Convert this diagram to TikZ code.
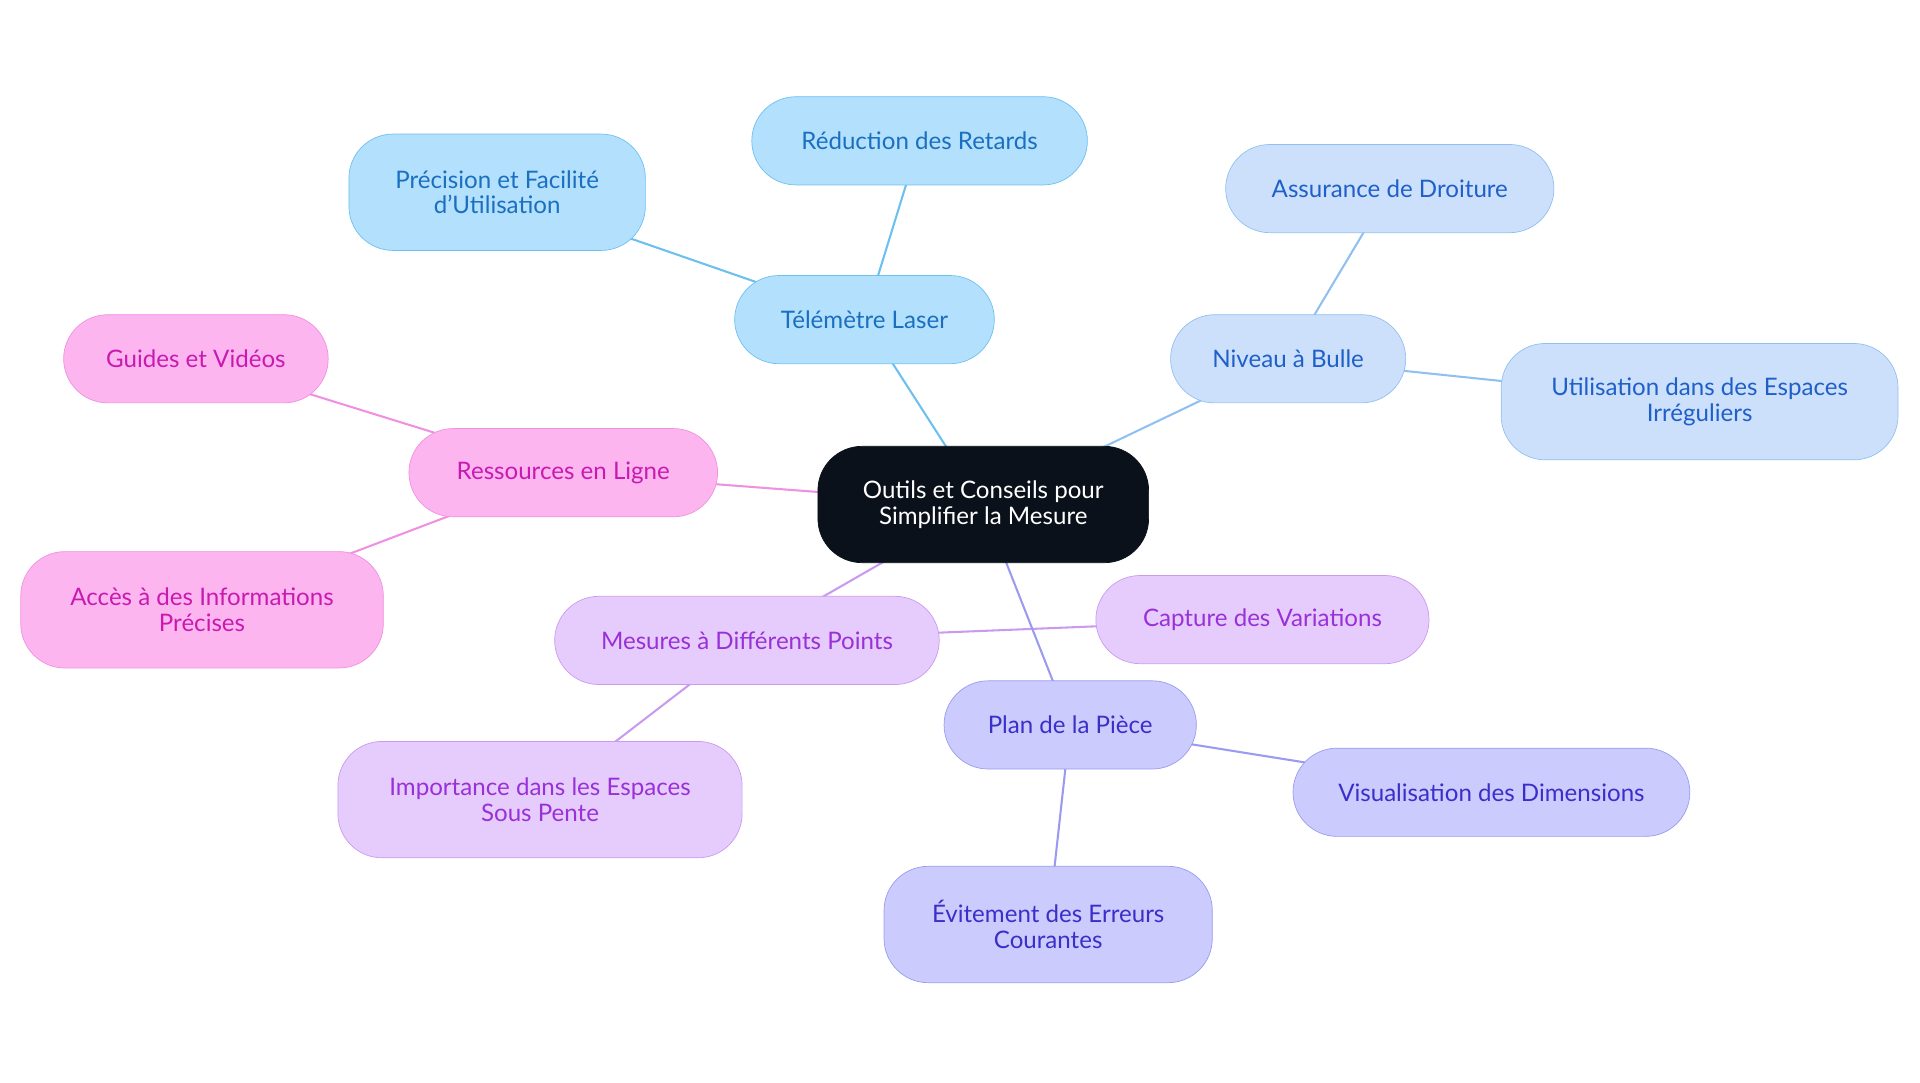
\documentclass[tikz,border=0pt]{standalone}
\usepackage{fontspec}
\setmainfont{Lato}
\usetikzlibrary{positioning, backgrounds}
\definecolor{cdark}{HTML}{0B111A}
\definecolor{bfill}{HTML}{B3E0FD}\definecolor{bline}{HTML}{6CC0F0}\definecolor{btext}{HTML}{1A6FC0}
\definecolor{lfill}{HTML}{CCE0FB}\definecolor{lline}{HTML}{90C0F0}\definecolor{ltext}{HTML}{1F5FC8}
\definecolor{pfill}{HTML}{CBCBFD}\definecolor{pline}{HTML}{9A9AF0}\definecolor{ptext}{HTML}{3A2FC8}
\definecolor{vfill}{HTML}{E5CCFC}\definecolor{vline}{HTML}{C99AF0}\definecolor{vtext}{HTML}{9A30D8}
\definecolor{kfill}{HTML}{FDB5F0}\definecolor{kline}{HTML}{F090E0}\definecolor{ktext}{HTML}{C81AB0}
\tikzset{
  box/.style={rounded corners=0.9cm, align=center, inner sep=0pt, font=\fontsize{14}{15}\selectfont},
  root/.style={box, fill=cdark, draw=cdark, text=white},
  tel/.style={box, fill=bfill, draw=bline, text=btext},
  niv/.style={box, fill=lfill, draw=lline, text=ltext},
  pla/.style={box, fill=pfill, draw=pline, text=ptext},
  mes/.style={box, fill=vfill, draw=vline, text=vtext},
  res/.style={box, fill=kfill, draw=kline, text=ktext},
  link/.style={line width=1.2pt, draw=#1}
}
\begin{document}
\begin{tikzpicture}[x=0.025cm, y=-0.025cm]
  \useasboundingbox (0,0) rectangle (1568,884);
  % centre
  \node[root, minimum width=6.75cm, minimum height=2.375cm] (center) at (803,412) {Outils et Conseils pour\\Simplifier la Mesure};
  % branches
  \node[tel, minimum width=5.3cm, minimum height=1.8cm] (tel) at (706,261) {Télémètre Laser};
  \node[tel, minimum width=6.85cm, minimum height=1.8cm] (tel1) at (751,115) {Réduction des Retards};
  \node[tel, minimum width=6.05cm, minimum height=2.375cm] (tel2) at (406,157) {Précision et Facilité\\d'Utilisation};
  \node[niv, minimum width=4.8cm, minimum height=1.8cm] (niv) at (1052,293) {Niveau à Bulle};
  \node[niv, minimum width=6.7cm, minimum height=1.8cm] (niv1) at (1135,154) {Assurance de Droiture};
  \node[niv, minimum width=8.1cm, minimum height=2.375cm] (niv2) at (1388,328) {Utilisation dans des Espaces\\Irréguliers};
  \node[res, minimum width=6.3cm, minimum height=1.8cm] (res) at (460,386) {Ressources en Ligne};
  \node[res, minimum width=5.4cm, minimum height=1.8cm] (res1) at (160,293) {Guides et Vidéos};
  \node[res, minimum width=7.4cm, minimum height=2.375cm] (res2) at (165,498) {Accès à des Informations\\Précises};
  \node[mes, minimum width=7.85cm, minimum height=1.8cm] (mes) at (610,523) {Mesures à Différents Points};
  \node[mes, minimum width=6.8cm, minimum height=1.8cm] (mes1) at (1031,506) {Capture des Variations};
  \node[mes, minimum width=8.25cm, minimum height=2.375cm] (mes2) at (441,653) {Importance dans les Espaces\\Sous Pente};
  \node[pla, minimum width=5.15cm, minimum height=1.8cm] (pla) at (874,592) {Plan de la Pièce};
  \node[pla, minimum width=8.1cm, minimum height=1.8cm] (pla1) at (1218,647) {Visualisation des Dimensions};
  \node[pla, minimum width=6.7cm, minimum height=2.375cm] (pla2) at (856,755) {Évitement des Erreurs\\Courantes};
  % connectors
  \begin{scope}[on background layer]
    \draw[link=bline] (center.center) -- (tel.center) -- (tel1.center);
    \draw[link=bline] (tel.center) -- (tel2.center);
    \draw[link=lline] (center.center) -- (niv.center) -- (niv1.center);
    \draw[link=lline] (niv.center) -- (niv2.center);
    \draw[link=kline] (center.center) -- (res.center) -- (res1.center);
    \draw[link=kline] (res.center) -- (res2.center);
    \draw[link=vline] (center.center) -- (mes.center) -- (mes1.center);
    \draw[link=vline] (mes.center) -- (mes2.center);
    \draw[link=pline] (center.center) -- (pla.center) -- (pla1.center);
    \draw[link=pline] (pla.center) -- (pla2.center);
  \end{scope}
\end{tikzpicture}
\end{document}
